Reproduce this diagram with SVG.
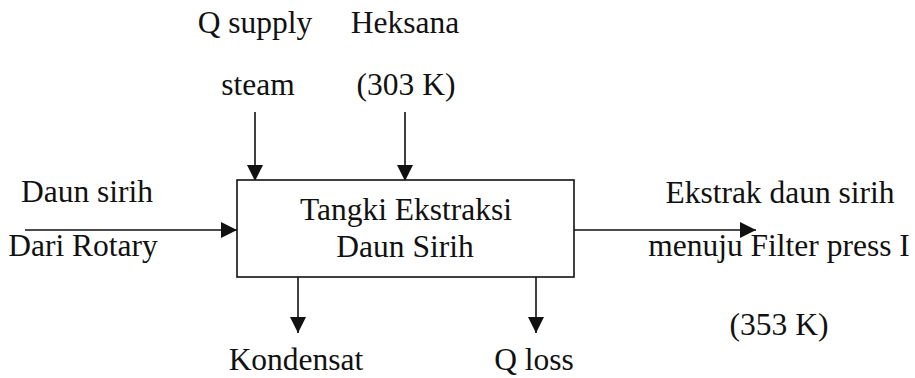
<svg xmlns="http://www.w3.org/2000/svg" width="915" height="378" viewBox="0 0 915 378">
<style>
text{font-family:"Liberation Serif","Times New Roman",serif;font-size:31.5px;fill:#111;text-anchor:middle}
.c{stroke:#111;stroke-width:1.6;fill:none}
.box{fill:#fff;stroke:#111;stroke-width:1.6}
</style>
<defs>
<marker id="ah" markerUnits="userSpaceOnUse" markerWidth="17" markerHeight="16" refX="16" refY="8" orient="auto">
<path d="M0,0 L16,8 L0,16 Z" fill="#111"/>
</marker>
</defs>
<g id="connectors">
<line class="c" x1="255" y1="112" x2="255" y2="181" marker-end="url(#ah)"/>
<line class="c" x1="405" y1="112" x2="405" y2="181" marker-end="url(#ah)"/>
<line class="c" x1="25" y1="230" x2="237" y2="230" marker-end="url(#ah)"/>
<line class="c" x1="574" y1="230" x2="756" y2="230" marker-end="url(#ah)"/>
<line class="c" x1="298" y1="277" x2="298" y2="333" marker-end="url(#ah)"/>
<line class="c" x1="536" y1="277" x2="536" y2="333" marker-end="url(#ah)"/>
</g>
<g id="tank">
<rect class="box" x="237" y="180" width="337" height="97"/>
<text x="406" y="220">Tangki Ekstraksi</text>
<text x="405" y="257">Daun Sirih</text>
</g>
<g id="q-supply">
<text x="255" y="33">Q supply</text>
<text x="258" y="95">steam</text>
</g>
<g id="heksana">
<text x="405" y="33">Heksana</text>
<text x="406" y="95">(303 K)</text>
</g>
<g id="daun-sirih">
<text x="87" y="202">Daun sirih</text>
<text x="83" y="256">Dari Rotary</text>
</g>
<g id="ekstrak">
<text x="780" y="203">Ekstrak daun sirih</text>
<text x="779" y="256">menuju Filter press I</text>
<text x="779" y="335">(353 K)</text>
</g>
<g id="kondensat">
<text x="296" y="370">Kondensat</text>
</g>
<g id="q-loss">
<text x="534" y="370">Q loss</text>
</g>
</svg>
